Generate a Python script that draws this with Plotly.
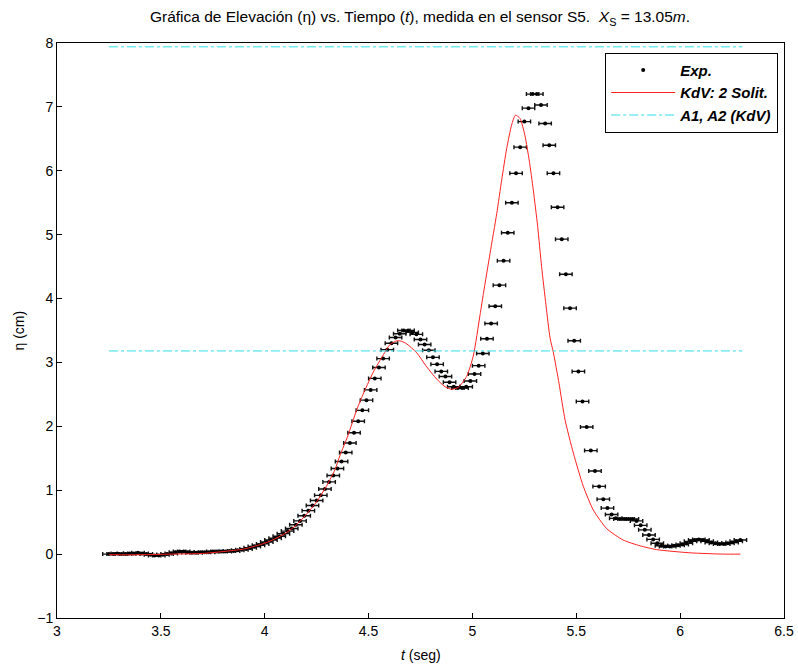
import plotly.graph_objects as go

# Experimental data (sensor S5)
t_exp = [3.25, 3.27, 3.29, 3.31, 3.33, 3.35, 3.37, 3.39, 3.41, 3.43, 3.45, 3.47, 3.49, 3.51, 3.53,
         3.55, 3.57, 3.59, 3.61, 3.63, 3.65, 3.67, 3.69, 3.71, 3.73, 3.75, 3.77, 3.79, 3.81, 3.83,
         3.85, 3.87, 3.89, 3.91, 3.93, 3.95, 3.97, 3.99, 4.01, 4.03, 4.05, 4.07, 4.09, 4.11, 4.13,
         4.15, 4.17, 4.19, 4.21, 4.23, 4.25, 4.27, 4.29, 4.31, 4.33, 4.35, 4.37, 4.39, 4.41, 4.43,
         4.45, 4.47, 4.49, 4.51, 4.53, 4.55, 4.57, 4.59, 4.61, 4.63, 4.65, 4.67, 4.69, 4.71, 4.73,
         4.75, 4.77, 4.79, 4.81, 4.83, 4.85, 4.87, 4.89, 4.91, 4.93, 4.95, 4.97, 4.99, 5.01, 5.03,
         5.05, 5.07, 5.09, 5.11, 5.13, 5.15, 5.17, 5.19, 5.21, 5.23, 5.25, 5.27, 5.29, 5.31, 5.33,
         5.35, 5.37, 5.39, 5.41, 5.43, 5.45, 5.47, 5.49, 5.51, 5.53, 5.55, 5.57, 5.59, 5.61, 5.63,
         5.65, 5.67, 5.69, 5.71, 5.73, 5.75, 5.77, 5.79, 5.81, 5.83, 5.85, 5.87, 5.89, 5.91, 5.93,
         5.95, 5.97, 5.99, 6.01, 6.03, 6.05, 6.07, 6.09, 6.11, 6.13, 6.15, 6.17, 6.19, 6.21, 6.23,
         6.25, 6.27, 6.29]
eta_exp = [0.00, 0.00, 0.01, 0.00, 0.00, 0.01, 0.01, 0.02, 0.01, 0.00, -0.01, -0.02, -0.02, -0.01, 0.00,
           0.01, 0.03, 0.04, 0.04, 0.03, 0.02, 0.02, 0.03, 0.03, 0.03, 0.04, 0.04, 0.04, 0.04, 0.05,
           0.05, 0.06, 0.07, 0.08, 0.10, 0.12, 0.14, 0.16, 0.19, 0.22, 0.25, 0.28, 0.32, 0.36, 0.40,
           0.46, 0.52, 0.60, 0.68, 0.76, 0.84, 0.92, 1.02, 1.13, 1.23, 1.34, 1.45, 1.59, 1.74, 1.90,
           2.08, 2.25, 2.41, 2.57, 2.75, 2.92, 3.06, 3.20, 3.30, 3.39, 3.45, 3.50, 3.50, 3.47, 3.44,
           3.36, 3.28, 3.19, 3.08, 2.97, 2.86, 2.78, 2.69, 2.62, 2.60, 2.60, 2.62, 2.71, 2.82, 2.95,
           3.14, 3.37, 3.61, 3.88, 4.21, 4.59, 5.03, 5.50, 5.96, 6.37, 6.77, 6.98, 7.20, 7.20, 7.03,
           6.74, 6.40, 5.96, 5.43, 4.93, 4.38, 3.85, 3.34, 2.86, 2.39, 1.99, 1.62, 1.30, 1.06, 0.86,
           0.72, 0.62, 0.56, 0.55, 0.55, 0.55, 0.55, 0.52, 0.45, 0.38, 0.30, 0.23, 0.17, 0.13, 0.12,
           0.12, 0.13, 0.14, 0.15, 0.17, 0.20, 0.22, 0.23, 0.22, 0.20, 0.18, 0.17, 0.16, 0.16, 0.17,
           0.18, 0.20, 0.22]
t_err = 0.03  # horizontal error half-width (s)

# KdV two-soliton solution
t_kdv = [3.25, 3.40, 3.55, 3.70, 3.80, 3.90, 4.00, 4.05, 4.106, 4.15, 4.20, 4.25, 4.30, 4.338, 4.363,
         4.40, 4.443, 4.48, 4.523, 4.571, 4.603, 4.638, 4.66, 4.684, 4.732, 4.78, 4.828, 4.868, 4.90,
         4.932, 4.972, 5.004, 5.037, 5.053, 5.085, 5.117, 5.141, 5.165, 5.189, 5.207, 5.229, 5.253,
         5.274, 5.293, 5.314, 5.333, 5.354, 5.374, 5.39, 5.417, 5.446, 5.486, 5.534, 5.582, 5.646,
         5.726, 5.807, 5.887, 6.048, 6.208, 6.29]
eta_kdv = [-0.01, -0.01, 0.00, 0.01, 0.04, 0.08, 0.17, 0.24, 0.34, 0.45, 0.62, 0.82, 1.08, 1.32, 1.55,
           1.85, 2.26, 2.55, 2.85, 3.12, 3.28, 3.34, 3.33, 3.29, 3.15, 2.93, 2.74, 2.62, 2.58,
           2.61, 2.78, 3.10, 3.75, 4.08, 4.71, 5.33, 5.86, 6.35, 6.72, 6.87, 6.82, 6.55,
           6.15, 5.70, 5.13, 4.50, 3.90, 3.38, 3.15, 2.67, 2.10, 1.58, 1.06, 0.69, 0.40,
           0.22, 0.13, 0.07, 0.02, 0.00, 0.00]

# Amplitudes A1, A2 (KdV)
amp_levels = [7.94, 3.18]
amp_t_range = [3.25, 6.30]

font_family = "Liberation Sans, Arial, sans-serif"

fig = go.Figure()

fig.add_trace(go.Scatter(
    x=t_exp, y=eta_exp, mode="markers", name="<b><i>Exp.</i></b>",
    marker=dict(color="black", size=4),
    error_x=dict(type="constant", value=t_err, color="#111111", thickness=1.4, width=2),
))

fig.add_trace(go.Scatter(
    x=t_kdv, y=eta_kdv, mode="lines", name="<b><i>KdV: 2 Solit.</i></b>",
    line=dict(color="#ff2020", width=1, shape="spline", smoothing=0.6),
))

for i, a in enumerate(amp_levels):
    fig.add_trace(go.Scatter(
        x=amp_t_range, y=[a, a], mode="lines", name="<b><i>A1, A2 (KdV)</i></b>",
        line=dict(color="#30dde8", width=1, dash="dashdot"),
        showlegend=(i == 0), legendgroup="amp",
    ))

axis_common = dict(
    showline=True, linecolor="black", linewidth=1, mirror=True,
    ticks="inside", ticklen=5, tickcolor="black",
    showgrid=False, zeroline=False, automargin=False,
    tickfont=dict(family=font_family, size=14, color="black"),
)

fig.update_layout(
    width=798, height=666,
    margin=dict(l=57, r=14, t=43, b=48),
    paper_bgcolor="white", plot_bgcolor="white",
    font=dict(family=font_family, color="black"),
    title=dict(
        text="Gráfica de Elevación (η) vs. Tiempo (<i>t</i>), medida en el sensor S5.  <i>X</i><sub>S</sub> = 13.05<i>m</i>.",
        x=420 / 798, xanchor="center", y=1 - 17 / 666, yanchor="middle",
        font=dict(family=font_family, size=15.5, color="black"),
    ),
    xaxis=dict(range=[3, 6.5], tickvals=[3, 3.5, 4, 4.5, 5, 5.5, 6, 6.5],
               ticktext=["3", "3.5", "4", "4.5", "5", "5.5", "6", "6.5"],
               **axis_common),
    yaxis=dict(range=[-1, 8], tickvals=list(range(-1, 9)),
               **axis_common),
    annotations=[
        dict(text="<i>t</i> (seg)", xref="paper", yref="paper", x=0.5, y=-37 / 575,
             xanchor="center", yanchor="middle", showarrow=False,
             font=dict(family=font_family, size=14, color="black")),
        dict(text="η (cm)", xref="paper", yref="paper", x=-39 / 727, y=0.5,
             xanchor="center", yanchor="middle", showarrow=False, textangle=-90,
             font=dict(family=font_family, size=14, color="black")),
    ],
    showlegend=True,
    legend=dict(
        x=0.992, xanchor="right", y=0.983, yanchor="top",
        bordercolor="black", borderwidth=1, bgcolor="white",
        font=dict(family=font_family, size=15, color="black"),
        tracegroupgap=0, itemwidth=64,
    ),
)

fig.write_html("out.html")
